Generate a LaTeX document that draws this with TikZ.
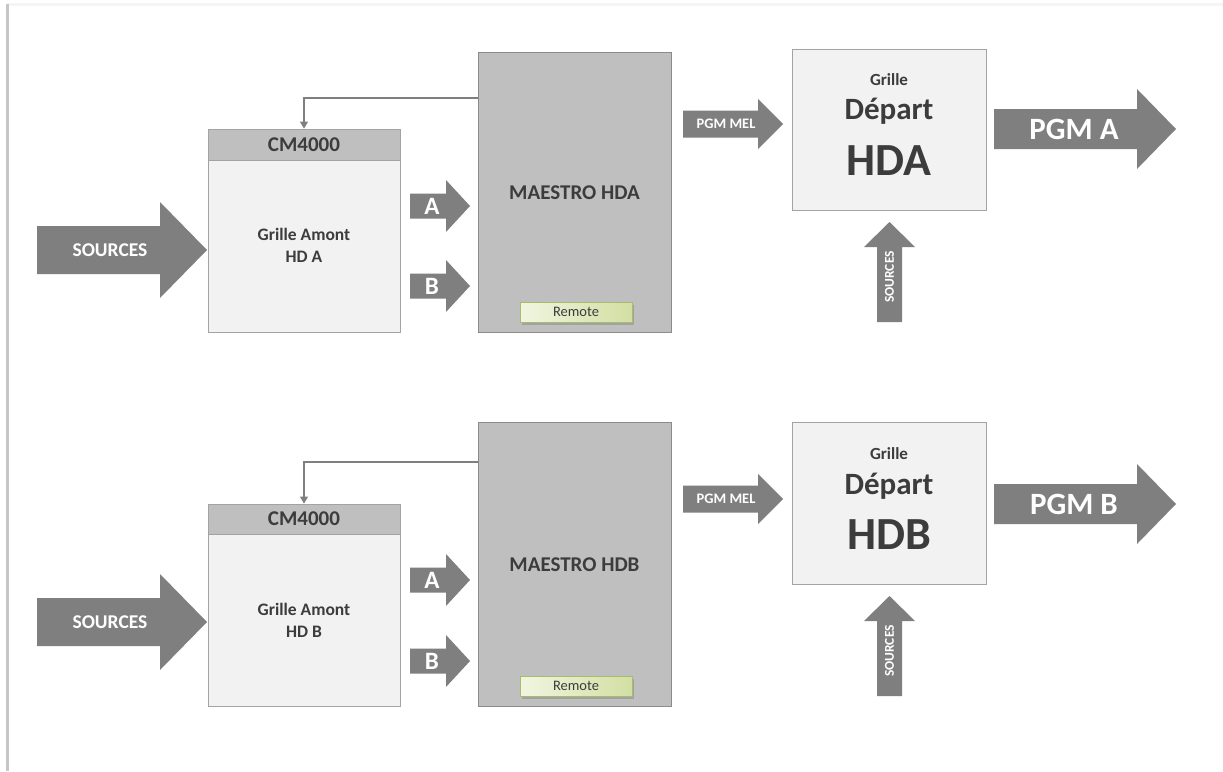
\documentclass[tikz,border=0pt]{standalone}
\usepackage{fontspec}
\setmainfont{Carlito}
\usetikzlibrary{arrows.meta,shadows}

\definecolor{arrowgray}{HTML}{7F7F7F}
\definecolor{boxgray}{HTML}{BFBFBF}
\definecolor{boxlight}{HTML}{F2F2F2}
\definecolor{boxline}{HTML}{A3A3A3}
\definecolor{textdark}{HTML}{3C3C3C}
\definecolor{remotelight}{HTML}{F1F5E1}
\definecolor{remotedark}{HTML}{D2DFA2}
\definecolor{remoteline}{HTML}{A8BC6E}

% block arrows: x start, x neck, x tip, y centre, shaft half, head half
\newcommand{\blockarrowh}[6]{%
  \fill[arrowgray] (#1,#4-#5) -- (#2,#4-#5) -- (#2,#4-#6) -- (#3,#4)
    -- (#2,#4+#6) -- (#2,#4+#5) -- (#1,#4+#5) -- cycle;}
% vertical: x centre, y bottom, y neck, y tip, shaft half, head half
\newcommand{\blockarrowv}[6]{%
  \fill[arrowgray] (#1-#5,#2) -- (#1-#5,#3) -- (#1-#6,#3) -- (#1,#4)
    -- (#1+#6,#3) -- (#1+#5,#3) -- (#1+#5,#2) -- cycle;}

\tikzset{
  lightbox/.style={draw=boxline, fill=boxlight, line width=0.9pt, inner sep=0pt},
  darkbox/.style={draw=boxline!85!black, fill=boxgray, line width=0.9pt, inner sep=0pt},
  arrowtext/.style={text=white, font=\bfseries, inner sep=0pt},
  boxtext/.style={text=textdark, font=\bfseries, align=center, inner sep=0pt},
  remotebtn/.style={draw=remoteline, left color=remotelight, right color=remotedark,
    line width=0.8pt, minimum width=112pt, minimum height=20pt, inner sep=0pt,
    text=textdark, font=\fontsize{14.5}{14.5}\selectfont,
    drop shadow={shadow xshift=1.5pt, shadow yshift=-2.5pt, opacity=0.45}},
  fbline/.style={draw=arrowgray, line width=1.1pt, -{Triangle[width=8pt,length=7pt]}},
}

\begin{document}
\begin{tikzpicture}[x=1pt, y=-1pt]
  \useasboundingbox (0,0) rectangle (1223,771);
  \fill[white] (0,0) rectangle (1223,771);
  % frame
  \draw[gray!8, line width=3pt] (7,4) -- (1223,4);
  \draw[gray!45, line width=2.5pt] (7.5,4) -- (7.5,771);

  % ---------- upper chain (HD A) ----------
  % Sources arrow
  \blockarrowh{37}{160}{207}{250}{24}{48}
  \node[arrowtext, font=\bfseries\fontsize{19.5}{20}\selectfont] (srcA) at (110,250) {SOURCES};
  % CM4000
  \node[lightbox, minimum width=192pt, minimum height=203pt] (cmA) at (304,230.5) {};
  \node[lightbox, fill=boxgray, minimum width=192pt, minimum height=31pt] (cmheadA) at (304,144.5)
    {\textcolor{textdark}{\bfseries\fontsize{21}{21}\selectfont CM4000}};
  \node[boxtext, font=\bfseries\fontsize{17.5}{22}\selectfont] (amontA) at (304,245) {Grille Amont\\HD A};
  % A and B arrows
  \blockarrowh{410}{446}{470}{206}{12.5}{26}
  \node[arrowtext, font=\bfseries\fontsize{25}{25}\selectfont] (inA1) at (432,206) {A};
  \blockarrowh{410}{446}{470}{286}{12.5}{26}
  \node[arrowtext, font=\bfseries\fontsize{25}{25}\selectfont] (inB1) at (432,286) {B};
  % Maestro
  \node[darkbox, minimum width=193pt, minimum height=280pt] (maestroA) at (574.5,192) {};
  \node[boxtext, font=\bfseries\fontsize{21}{21}\selectfont] (maestroAtxt) at (574.5,193) {MAESTRO HDA};
  \node[remotebtn] (remoteA) at (576,312) {Remote};
  \coordinate (fbA) at (478,98);
  \draw[fbline] (fbA) -| (cmheadA.north);
  % PGM MEL
  \blockarrowh{683}{758}{783}{124}{13.5}{25}
  \node[arrowtext, font=\bfseries\fontsize{14.5}{15}\selectfont] (melA) at (726,124) {PGM MEL};
  % Grille depart
  \node[lightbox, minimum width=194pt, minimum height=161pt] (departA) at (889,129.5) {};
  \node[boxtext, anchor=base, font=\bfseries\fontsize{17}{17}\selectfont] (grilleA) at (889,85) {Grille};
  \node[boxtext, anchor=base, font=\bfseries\fontsize{31}{31}\selectfont] (depA) at (889,119) {Départ};
  \node[boxtext, anchor=base, font=\bfseries\fontsize{46}{46}\selectfont] (hdA) at (889,175) {HDA};
  % PGM A
  \blockarrowh{994}{1137}{1176}{129}{20}{40}
  \node[arrowtext, font=\bfseries\fontsize{31}{31}\selectfont] (pgmA) at (1074,129) {PGM A};
  % Sources into depart
  \blockarrowv{889.5}{322}{247}{222}{12.5}{25.5}
  \node[arrowtext, rotate=90, font=\bfseries\fontsize{13.5}{14}\selectfont] (srcvA) at (889.5,277) {SOURCES};

  % ---------- lower chain (HD B) ----------
  % Sources arrow
  \blockarrowh{37}{160}{207}{622}{24}{48}
  \node[arrowtext, font=\bfseries\fontsize{19.5}{20}\selectfont] (srcB) at (110,622) {SOURCES};
  % CM4000
  \node[lightbox, minimum width=192pt, minimum height=202pt] (cmB) at (304,605) {};
  \node[lightbox, fill=boxgray, minimum width=192pt, minimum height=30pt] (cmheadB) at (304,519)
    {\textcolor{textdark}{\bfseries\fontsize{21}{21}\selectfont CM4000}};
  \node[boxtext, font=\bfseries\fontsize{17.5}{22}\selectfont] (amontB) at (304,620) {Grille Amont\\HD B};
  % A and B arrows
  \blockarrowh{410}{446}{470}{580}{12.5}{26}
  \node[arrowtext, font=\bfseries\fontsize{25}{25}\selectfont] (inA2) at (432,580) {A};
  \blockarrowh{410}{446}{470}{661}{12.5}{26}
  \node[arrowtext, font=\bfseries\fontsize{25}{25}\selectfont] (inB2) at (432,661) {B};
  % Maestro
  \node[darkbox, minimum width=193pt, minimum height=284pt] (maestroB) at (574.5,564) {};
  \node[boxtext, font=\bfseries\fontsize{21}{21}\selectfont] (maestroBtxt) at (574.5,565) {MAESTRO HDB};
  \node[remotebtn] (remoteB) at (576,686) {Remote};
  \coordinate (fbB) at (478,462);
  \draw[fbline] (fbB) -| (cmheadB.north);
  % PGM MEL
  \blockarrowh{683}{758}{783}{499}{13.5}{25}
  \node[arrowtext, font=\bfseries\fontsize{14.5}{15}\selectfont] (melB) at (726,499) {PGM MEL};
  % Grille depart
  \node[lightbox, minimum width=194pt, minimum height=162pt] (departB) at (889,503) {};
  \node[boxtext, anchor=base, font=\bfseries\fontsize{17}{17}\selectfont] (grilleB) at (889,459) {Grille};
  \node[boxtext, anchor=base, font=\bfseries\fontsize{31}{31}\selectfont] (depB) at (889,494) {Départ};
  \node[boxtext, anchor=base, font=\bfseries\fontsize{46}{46}\selectfont] (hdB) at (889,549) {HDB};
  % PGM B
  \blockarrowh{994}{1137}{1176}{504}{20}{40}
  \node[arrowtext, font=\bfseries\fontsize{31}{31}\selectfont] (pgmB) at (1074,504) {PGM B};
  % Sources into depart
  \blockarrowv{889.5}{696}{621}{596}{12.5}{25.5}
  \node[arrowtext, rotate=90, font=\bfseries\fontsize{13.5}{14}\selectfont] (srcvB) at (889.5,651) {SOURCES};
\end{tikzpicture}
\end{document}
